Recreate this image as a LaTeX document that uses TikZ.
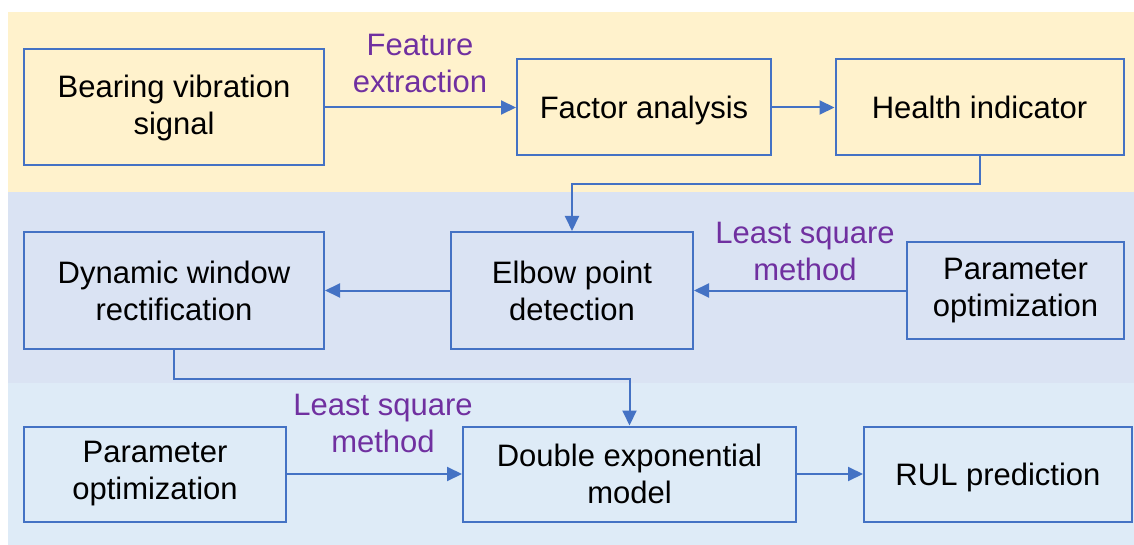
\documentclass[tikz,border=0pt]{standalone}
\usepackage{fontspec}
\setmainfont{Liberation Sans}
\usepackage{tikz}
\usetikzlibrary{arrows.meta}

\definecolor{boxblue}{RGB}{68,114,196}
\definecolor{lblpurple}{RGB}{112,48,160}
\definecolor{bandyellow}{RGB}{255,242,204}
\definecolor{bandmid}{RGB}{218,227,243}
\definecolor{bandlow}{RGB}{222,235,247}

\begin{document}
\begin{tikzpicture}[x=1pt,y=-1pt,
    blk/.style={draw=boxblue, line width=2pt, align=center, inner sep=0pt,
      font=\fontsize{31}{37}\selectfont},
    oneline/.style={blk, text depth=0pt},
    lbl/.style={text=lblpurple, align=center, inner sep=0pt,
      font=\fontsize{31}{37}\selectfont},
    arr/.style={draw=boxblue, line width=2pt, -{Triangle[length=15pt,width=14pt]}}]
  \useasboundingbox (0,0) rectangle (1134,545);
  % background bands
  \fill[bandyellow] (8,12) rectangle (1134,192);
  \fill[bandmid] (8,192) rectangle (1134,383);
  \fill[bandlow] (8,383) rectangle (1134,545);

  \node[blk, minimum width=300, minimum height=116] (signal) at (174,107.5) {Bearing vibration\\signal};
  \node[oneline, minimum width=254, minimum height=96] (factor) at (644,107.5) {Factor analysis};
  \node[oneline, minimum width=288, minimum height=96] (health) at (979.5,107.5) {Health indicator};

  \node[blk, minimum width=300, minimum height=117] (window) at (174,290.5) {Dynamic window\\rectification};
  \node[blk, minimum width=242, minimum height=117] (elbow) at (572,290.5) {Elbow point\\detection};
  \node[blk, minimum width=217, minimum height=96] (paramA) at (1015.5,290.5) {Parameter\\optimization};

  \node[blk, minimum width=262, minimum height=95] (paramB) at (155,474) {Parameter\\optimization};
  \node[blk, minimum width=333, minimum height=95] (double) at (629.5,474) {Double exponential\\model};
  \node[oneline, minimum width=268, minimum height=95] (rul) at (998,474) {RUL prediction};

  \node[lbl] (lblFE) at (420,63.5) {Feature\\extraction};
  \node[lbl] (lblLSa) at (805,251.5) {Least square\\method};
  \node[lbl] (lblLSb) at (383,423.5) {Least square\\method};

  \draw[arr] (signal) -- (factor);
  \draw[arr] (factor) -- (health);
  \draw[arr] (health.south) -- ++(0,28) -| (elbow.north);
  \draw[arr] (paramA) -- (elbow);
  \draw[arr] (elbow) -- (window);
  \draw[arr] (window.south) -- ++(0,29) -| (double.north);
  \draw[arr] (paramB) -- (double);
  \draw[arr] (double) -- (rul);
\end{tikzpicture}
\end{document}
